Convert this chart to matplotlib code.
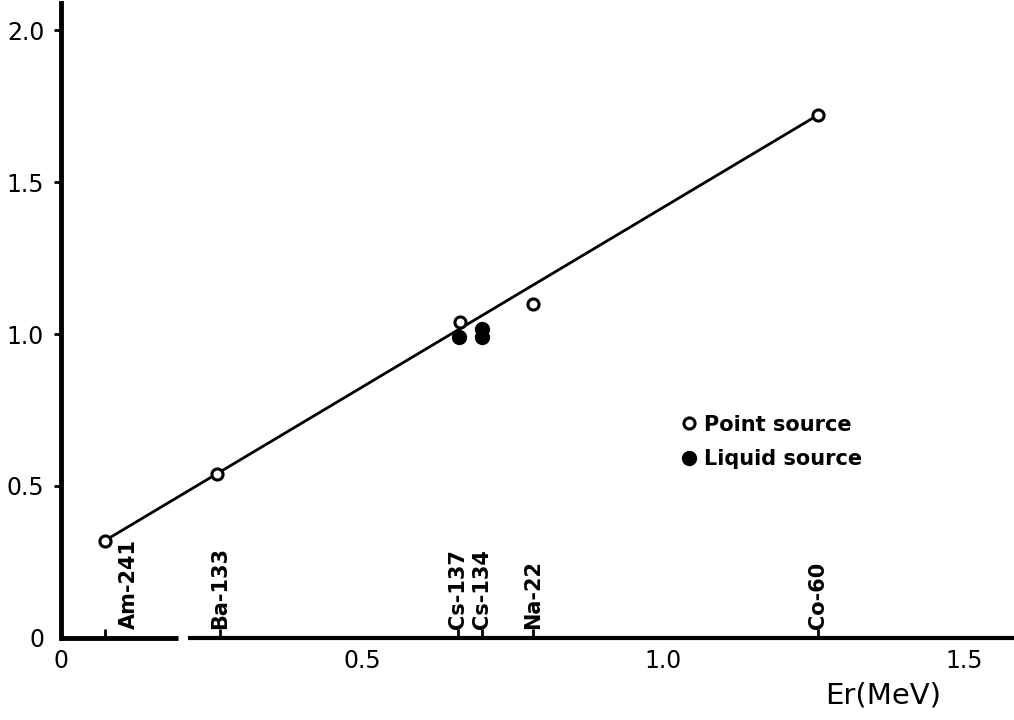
import numpy as np
import matplotlib
matplotlib.use("Agg")
import matplotlib.pyplot as plt

# isotope energies (MeV) and their axis labels
isotopes = ["Am-241", "Ba-133", "Cs-137", "Cs-134", "Na-22", "Co-60"]
energies = [0.073, 0.265, 0.660, 0.700, 0.785, 1.257]

# point source measurements
point_x = [0.073, 0.260, 0.663, 0.785, 1.257]
point_y = [0.32, 0.54, 1.04, 1.10, 1.72]

# liquid source measurements
liquid_x = [0.661, 0.700, 0.700]
liquid_y = [0.99, 1.015, 0.99]

# fitted line end points
fit_x = [0.073, 1.257]
fit_y = [0.32, 1.72]

xticks = [0, 0.5, 1.0, 1.5]
xticklabels = ["0", "0.5", "1.0", "1.5"]
yticks = [0, 0.5, 1.0, 1.5, 2.0]
yticklabels = ["0", "0.5", "1.0", "1.5", "2.0"]

fig = plt.figure(figsize=(10.14, 7.2), dpi=100)
ax = fig.add_axes([0, 0, 1, 1])
ax.set_xlim(-0.101, 1.583)
ax.set_ylim(-0.27, 2.099)

for s in ["top", "right"]:
    ax.spines[s].set_visible(False)
ax.spines["left"].set_position(("data", 0))
ax.spines["left"].set_bounds(0, 2.09)
ax.spines["left"].set_linewidth(3.5)
ax.spines["bottom"].set_position(("data", 0))
ax.spines["bottom"].set_visible(False)

# broken x axis line
ax.plot([0, 0.195], [0, 0], color="black", lw=3.5, solid_capstyle="butt", clip_on=False)
ax.plot([0.212, 1.583], [0, 0], color="black", lw=3.0, solid_capstyle="butt", clip_on=False)

ax.set_xticks(xticks)
ax.set_xticklabels(xticklabels, fontsize=17)
ax.tick_params(axis="x", length=0, pad=8)
ax.set_yticks(yticks)
ax.set_yticklabels(yticklabels, fontsize=17)
ax.tick_params(axis="y", length=5, width=2, pad=7)
ax.yaxis.get_major_ticks()[0].tick1line.set_visible(False)

# isotope markers on x axis
ax.vlines(energies, 0, 0.028, color="black", lw=2)
for name, e in zip(isotopes, energies):
    dx = 0.04 if name == "Am-241" else 0.0
    ax.text(e + dx, 0.03, name, rotation=90, ha="center", va="bottom",
            fontsize=15, family="DejaVu Sans Condensed", weight="bold")

ax.plot(fit_x, fit_y, color="black", lw=2.0, zorder=2)
ax.plot(point_x, point_y, "o", mfc="white", mec="black", ms=8, mew=2.2,
        zorder=3, label="Point source")
ax.plot(liquid_x, liquid_y, "o", mfc="black", mec="black", ms=10,
        zorder=3, label="Liquid source")

ax.legend(loc="upper left", bbox_to_anchor=(0.655, 0.45), frameon=False,
          handlelength=0.6, handletextpad=0.4, labelspacing=0.7,
          prop={"size": 15, "weight": "bold"})

ax.text(1.365, -0.19, "Er(MeV)", fontsize=21, ha="center", va="center")

fig.savefig("out.png", dpi=100)
